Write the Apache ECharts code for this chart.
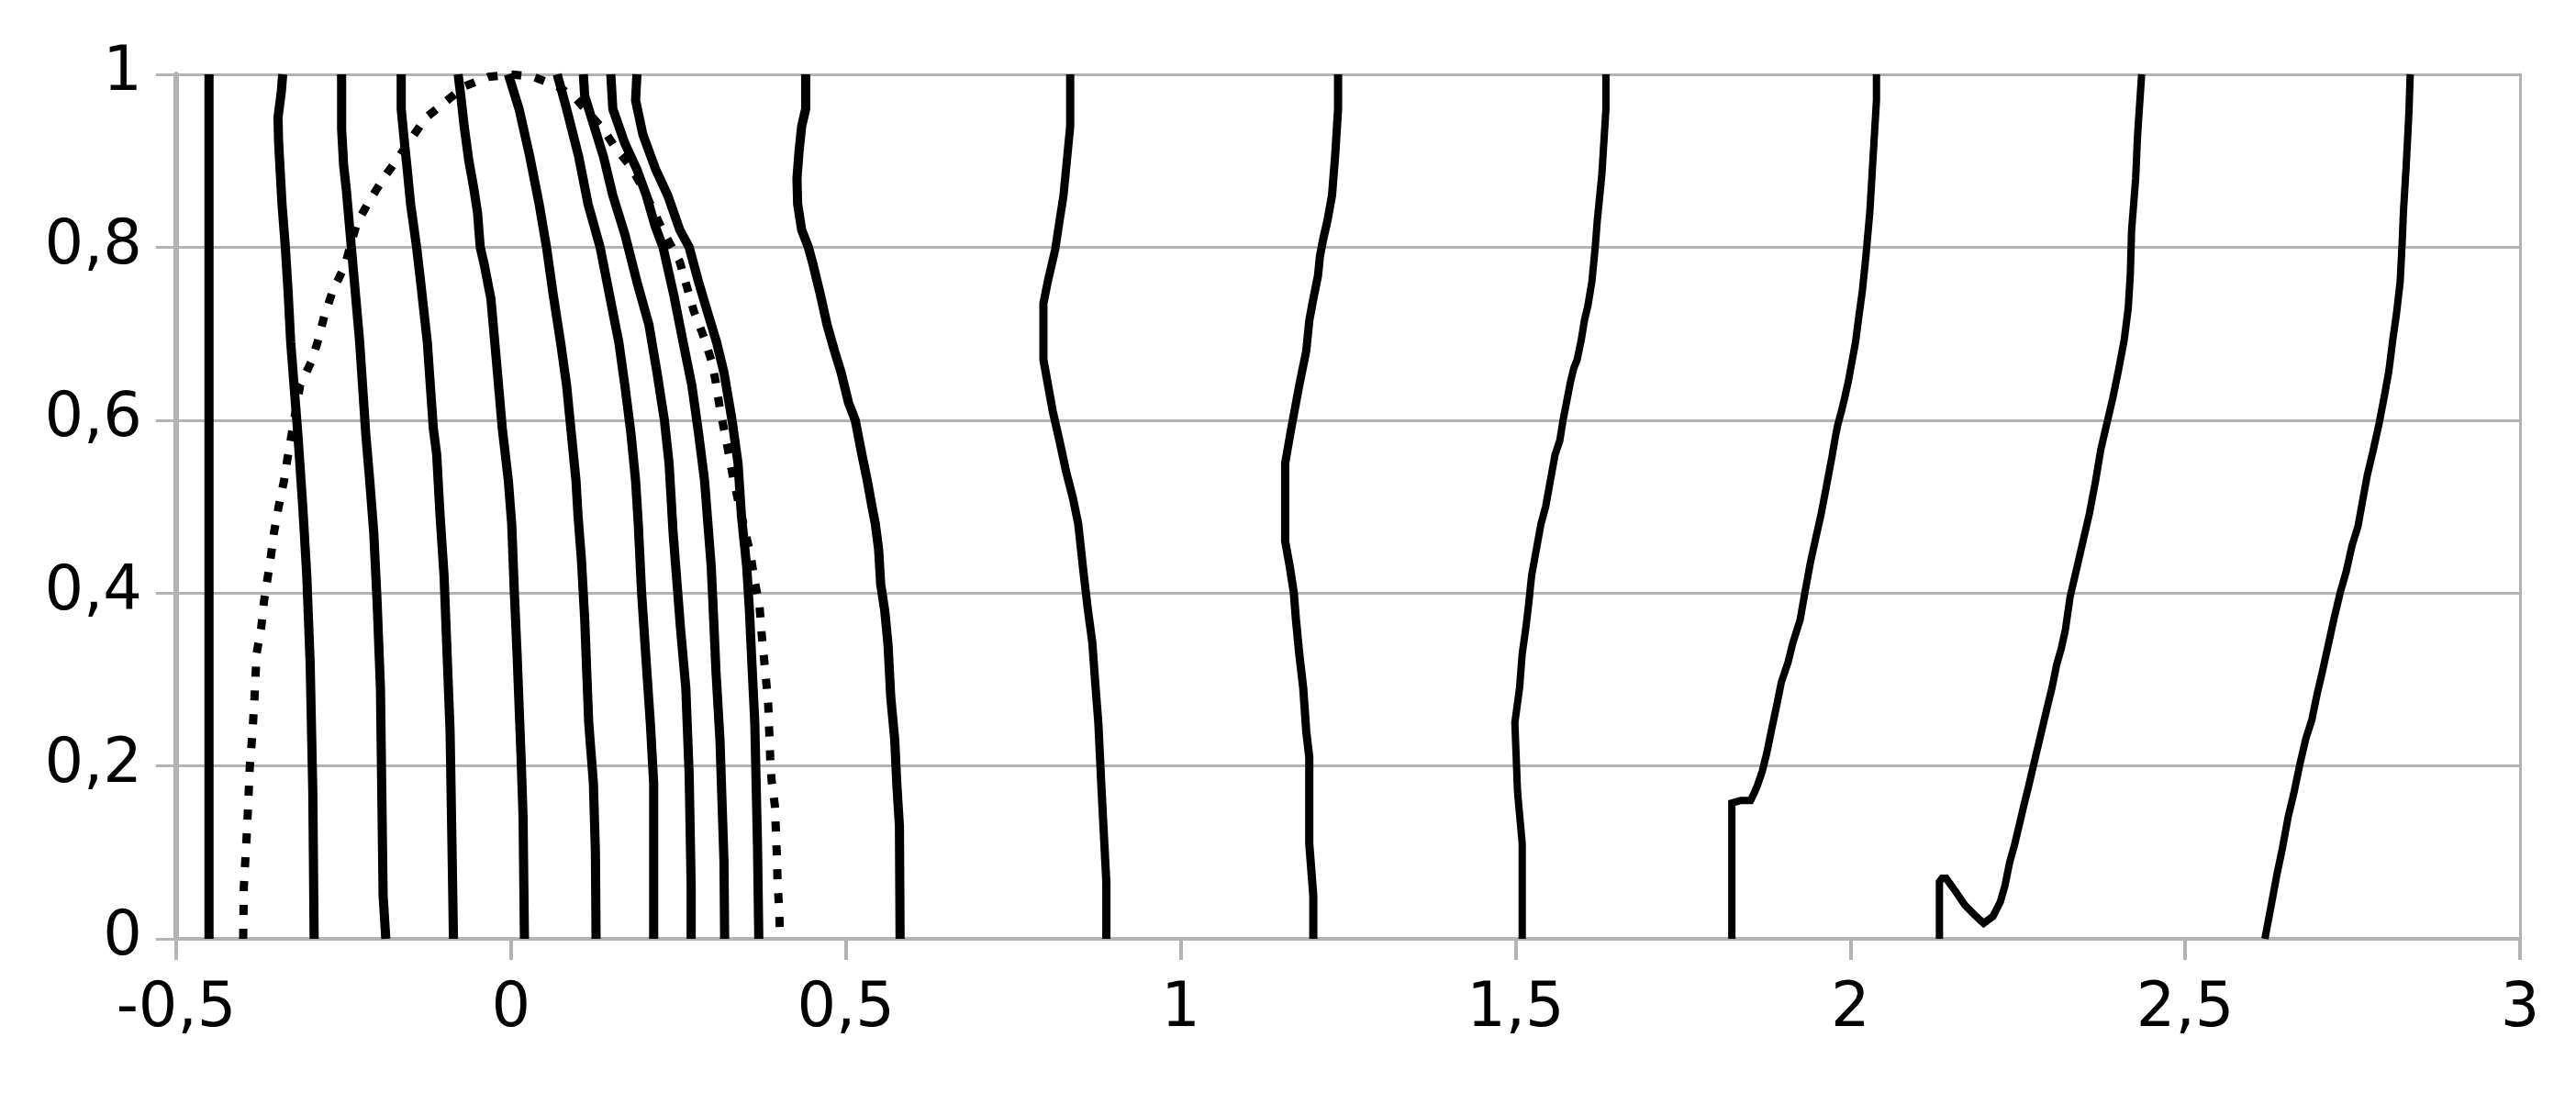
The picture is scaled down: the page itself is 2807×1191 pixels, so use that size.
<!DOCTYPE html>
<html>
<head>
<meta charset="utf-8">
<script src="https://cdn.jsdelivr.net/npm/echarts@6/dist/echarts.min.js"></script>
<style>
html,body{margin:0;padding:0;background:#fff;}
#chart{width:2807px;height:1191px;}
</style>
</head>
<body>
<div id="chart"></div>
<script>
// Tick labels
const xTicks = [-0.5, 0, 0.5, 1, 1.5, 2, 2.5, 3];
const yTicks = [0, 0.2, 0.4, 0.6, 0.8, 1];

// Solid contour lines, each as [x, y] points (bottom to top)
const curveA = [[-0.451,0],[-0.451,1]];
const curveB = [[-0.294,0],[-0.296,0.17],[-0.300,0.32],[-0.305,0.42],[-0.311,0.5],[-0.318,0.58],[-0.324,0.64],[-0.329,0.69],[-0.333,0.75],[-0.337,0.8],[-0.342,0.85],[-0.347,0.92],[-0.348,0.95],[-0.343,0.98],[-0.341,1]];
const curveC = [[-0.187,0],[-0.191,0.05],[-0.195,0.29],[-0.200,0.39],[-0.205,0.47],[-0.211,0.53],[-0.217,0.585],[-0.226,0.69],[-0.238,0.796],[-0.246,0.867],[-0.250,0.895],[-0.253,0.937],[-0.253,1]];
const curveD = [[-0.086,0],[-0.088,0.1],[-0.091,0.24],[-0.096,0.34],[-0.100,0.42],[-0.106,0.49],[-0.111,0.56],[-0.116,0.59],[-0.125,0.69],[-0.135,0.76],[-0.141,0.80],[-0.150,0.85],[-0.155,0.89],[-0.159,0.92],[-0.164,0.96],[-0.164,1]];
const curveE = [[0.020,0],[0.018,0.14],[0.015,0.21],[0.009,0.33],[0.005,0.40],[0.001,0.48],[-0.004,0.53],[-0.013,0.59],[-0.022,0.67],[-0.030,0.74],[-0.040,0.78],[-0.046,0.80],[-0.050,0.84],[-0.056,0.87],[-0.063,0.90],[-0.070,0.94],[-0.075,0.975],[-0.079,1]];
const curveF = [[0.127,0],[0.126,0.1],[0.123,0.18],[0.116,0.25],[0.110,0.37],[0.105,0.44],[0.100,0.49],[0.097,0.53],[0.090,0.585],[0.083,0.64],[0.074,0.69],[0.063,0.745],[0.053,0.80],[0.042,0.85],[0.028,0.905],[0.012,0.96],[-0.004,1]];
const curveG = [[0.213,0],[0.213,0.18],[0.208,0.25],[0.201,0.33],[0.195,0.40],[0.190,0.48],[0.186,0.53],[0.179,0.585],[0.170,0.64],[0.161,0.69],[0.147,0.745],[0.133,0.80],[0.115,0.85],[0.101,0.905],[0.083,0.96],[0.069,1]];
const curveH = [[0.269,0],[0.269,0.06],[0.266,0.19],[0.261,0.29],[0.253,0.36],[0.247,0.42],[0.242,0.47],[0.239,0.51],[0.236,0.55],[0.229,0.60],[0.218,0.655],[0.206,0.71],[0.188,0.76],[0.170,0.815],[0.152,0.86],[0.138,0.905],[0.124,0.94],[0.110,0.975],[0.108,1]];
const curveI = [[0.319,0],[0.318,0.09],[0.312,0.23],[0.306,0.31],[0.302,0.38],[0.299,0.43],[0.294,0.48],[0.289,0.53],[0.280,0.585],[0.270,0.64],[0.257,0.69],[0.243,0.745],[0.227,0.80],[0.215,0.825],[0.202,0.86],[0.188,0.89],[0.170,0.92],[0.152,0.96],[0.149,1]];
const curveJ = [[0.370,0],[0.368,0.11],[0.364,0.25],[0.359,0.33],[0.356,0.38],[0.352,0.43],[0.348,0.46],[0.344,0.49],[0.339,0.55],[0.330,0.60],[0.318,0.655],[0.307,0.69],[0.293,0.726],[0.280,0.76],[0.266,0.80],[0.252,0.82],[0.234,0.86],[0.216,0.89],[0.197,0.93],[0.186,0.97],[0.188,1]];
const curveK = [[0.581,0],[0.580,0.13],[0.576,0.18],[0.573,0.23],[0.567,0.28],[0.563,0.34],[0.558,0.38],[0.552,0.41],[0.549,0.45],[0.544,0.48],[0.539,0.50],[0.532,0.53],[0.524,0.56],[0.514,0.60],[0.504,0.62],[0.493,0.655],[0.483,0.68],[0.472,0.71],[0.462,0.745],[0.451,0.78],[0.444,0.80],[0.434,0.82],[0.428,0.85],[0.427,0.88],[0.430,0.91],[0.434,0.94],[0.440,0.96],[0.440,1]];
const curveL = [[0.889,0],[0.889,0.065],[0.882,0.17],[0.877,0.25],[0.872,0.30],[0.868,0.343],[0.861,0.383],[0.854,0.43],[0.847,0.48],[0.839,0.51],[0.829,0.54],[0.819,0.576],[0.809,0.61],[0.802,0.64],[0.795,0.67],[0.795,0.735],[0.802,0.762],[0.8125,0.797],[0.819,0.83],[0.825,0.86],[0.830,0.90],[0.835,0.94],[0.835,1]];
const curveM = [[1.198,0],[1.198,0.05],[1.192,0.11],[1.192,0.21],[1.1875,0.24],[1.183,0.29],[1.177,0.33],[1.172,0.37],[1.169,0.40],[1.163,0.43],[1.156,0.46],[1.156,0.55],[1.165,0.59],[1.177,0.64],[1.1875,0.68],[1.192,0.715],[1.198,0.74],[1.205,0.767],[1.208,0.79],[1.213,0.81],[1.219,0.83],[1.226,0.86],[1.231,0.91],[1.235,0.96],[1.235,1]];
const curveN = [[1.510,0],[1.510,0.11],[1.503,0.17],[1.499,0.25],[1.506,0.29],[1.510,0.33],[1.5155,0.36],[1.520,0.39],[1.524,0.42],[1.531,0.45],[1.538,0.48],[1.545,0.50],[1.552,0.53],[1.559,0.56],[1.566,0.576],[1.571,0.60],[1.577,0.624],[1.582,0.644],[1.587,0.66],[1.592,0.67],[1.598,0.692],[1.603,0.716],[1.608,0.732],[1.614,0.76],[1.619,0.80],[1.622,0.83],[1.629,0.885],[1.635,0.96],[1.635,1]];
const curveO = [[1.823,0],[1.823,0.157],[1.836,0.16],[1.851,0.16],[1.856,0.168],[1.861,0.177],[1.8685,0.194],[1.8755,0.216],[1.8826,0.243],[1.890,0.27],[1.897,0.297],[1.907,0.32],[1.914,0.342],[1.925,0.369],[1.932,0.40],[1.940,0.434],[1.949,0.466],[1.956,0.49],[1.9634,0.52],[1.9726,0.558],[1.9775,0.58],[1.981,0.594],[1.9866,0.61],[1.9916,0.626],[1.997,0.645],[2.002,0.666],[2.0077,0.69],[2.0127,0.72],[2.018,0.75],[2.023,0.788],[2.029,0.84],[2.034,0.905],[2.039,0.97],[2.039,1]];
const curveP = [[2.133,0],[2.133,0.066],[2.137,0.07],[2.143,0.07],[2.157,0.055],[2.171,0.039],[2.185,0.028],[2.199,0.018],[2.213,0.026],[2.224,0.043],[2.231,0.062],[2.238,0.089],[2.245,0.108],[2.252,0.131],[2.259,0.154],[2.266,0.176],[2.273,0.199],[2.280,0.222],[2.287,0.245],[2.294,0.268],[2.301,0.29],[2.308,0.317],[2.315,0.336],[2.321,0.357],[2.328,0.395],[2.337,0.425],[2.348,0.462],[2.357,0.492],[2.366,0.529],[2.374,0.566],[2.383,0.596],[2.392,0.626],[2.400,0.656],[2.409,0.693],[2.415,0.73],[2.418,0.768],[2.420,0.82],[2.426,0.879],[2.429,0.931],[2.435,1]];
const curveQ = [[2.619,0],[2.628,0.037],[2.637,0.0745],[2.645,0.104],[2.654,0.142],[2.663,0.171],[2.671,0.201],[2.680,0.231],[2.689,0.253],[2.697,0.283],[2.706,0.313],[2.7145,0.343],[2.723,0.373],[2.732,0.402],[2.7405,0.425],[2.749,0.4545],[2.758,0.477],[2.765,0.507],[2.772,0.5365],[2.781,0.566],[2.7895,0.596],[2.797,0.626],[2.804,0.656],[2.810,0.693],[2.8155,0.723],[2.821,0.76],[2.824,0.805],[2.826,0.842],[2.830,0.894],[2.834,0.954],[2.836,1]];

// Dotted boundary curve (left side bottom -> top, then right side top -> bottom)
const dottedCurve = [[-0.400,0],[-0.399,0.06],[-0.394,0.13],[-0.390,0.2],[-0.386,0.24],[-0.383,0.28],[-0.380,0.33],[-0.373,0.36],[-0.369,0.39],[-0.365,0.41],[-0.359,0.44],[-0.354,0.47],[-0.347,0.50],[-0.339,0.53],[-0.334,0.555],[-0.315,0.64],[-0.298,0.668],[-0.289,0.69],[-0.279,0.72],[-0.266,0.75],[-0.249,0.777],[-0.230,0.828],[-0.212,0.853],[-0.191,0.879],[-0.168,0.904],[-0.146,0.929],[-0.127,0.950],[-0.098,0.968],[-0.070,0.986],[-0.034,0.997],[0,1],[0.034,0.997],[0.070,0.986],[0.097,0.972],[0.138,0.936],[0.156,0.915],[0.179,0.893],[0.197,0.868],[0.225,0.822],[0.252,0.783],[0.273,0.726],[0.289,0.694],[0.299,0.669],[0.3055,0.645],[0.312,0.613],[0.322,0.574],[0.332,0.532],[0.341,0.5],[0.358,0.443],[0.364,0.413],[0.371,0.386],[0.374,0.355],[0.381,0.298],[0.384,0.272],[0.387,0.21],[0.389,0.184],[0.394,0.154],[0.397,0.096],[0.398,0.066],[0.400,0.039],[0.402,0]];

const boldCurves = [curveA, curveB, curveC, curveD, curveE, curveF, curveG, curveH, curveI, curveJ, curveK];
const midCurves = [curveL, curveM];
const thinCurves = [curveN, curveO, curveP, curveQ];

const gridColor = '#b3b3b3';
const labelFont = {fontFamily: 'DejaVu Sans', fontSize: 67, color: '#000'};
const fmt = v => String(Math.round(v * 10) / 10).replace('.', ',');

function solid(d, w) {
  return {
    type: 'line', data: d, showSymbol: false, symbol: 'none', smooth: false,
    lineStyle: {color: '#000', width: w, cap: 'butt', join: 'miter'},
    xAxisIndex: 0, yAxisIndex: 0, z: 3
  };
}
const series = [];
boldCurves.forEach(d => series.push(solid(d, 10)));
midCurves.forEach(d => series.push(solid(d, 9)));
thinCurves.forEach(d => series.push(solid(d, 8)));
series.push({
  type: 'line', data: dottedCurve, showSymbol: false, symbol: 'none', smooth: false,
  lineStyle: {color: '#000', width: 9, type: [11, 15], cap: 'butt'},
  xAxisIndex: 0, yAxisIndex: 0, z: 3
});

const chart = echarts.init(document.getElementById('chart'), null, {renderer: 'canvas'});
chart.setOption({
  animation: false,
  backgroundColor: '#fff',
  grid: {left: 192, right: 61, top: 81, bottom: 168, containLabel: false, outerBoundsMode: 'none'},
  xAxis: {
    type: 'value', min: xTicks[0], max: xTicks[xTicks.length - 1], interval: 0.5,
    axisLine: {show: true, onZero: false, lineStyle: {color: gridColor, width: 4}},
    axisTick: {show: true, inside: false, length: 23, lineStyle: {color: gridColor, width: 4}},
    splitLine: {show: false},
    axisLabel: Object.assign({margin: 44, formatter: fmt}, labelFont)
  },
  yAxis: [{
    type: 'value', min: yTicks[0], max: yTicks[yTicks.length - 1], interval: 0.2,
    axisLine: {show: true, onZero: false, lineStyle: {color: gridColor, width: 6}},
    axisTick: {show: true, inside: false, length: 22, lineStyle: {color: gridColor, width: 3}},
    splitLine: {show: true, lineStyle: {color: gridColor, width: 3}},
    axisLabel: Object.assign({margin: 37, formatter: fmt}, labelFont)
  }, {
    type: 'value', position: 'right', min: 0, max: 1, interval: 0.2,
    axisLine: {show: true, onZero: false, lineStyle: {color: gridColor, width: 3}},
    axisTick: {show: false}, axisLabel: {show: false}, splitLine: {show: false}
  }],
  series: series
});
</script>
</body>
</html>
